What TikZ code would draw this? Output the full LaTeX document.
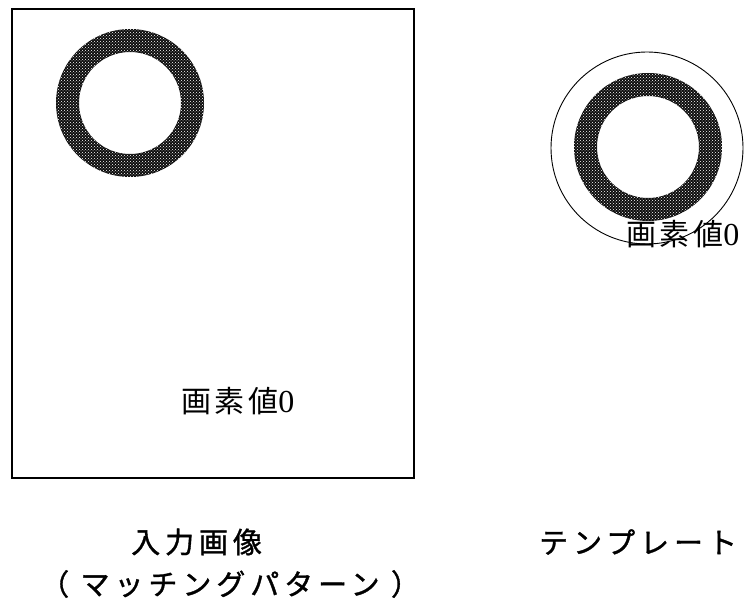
\documentclass[tikz,border=0pt]{standalone}
\usepackage{fontspec}
\usetikzlibrary{patterns}
\newfontfamily\cjk{Noto Sans CJK JP}
\newfontfamily\cjksp[LetterSpace=17,FakeBold=1.2]{Noto Sans CJK JP}
\newfontfamily\cjkval[LetterSpace=12]{Noto Sans CJK JP}
\newfontfamily\serifnum{Liberation Serif}
\begin{document}
\begin{tikzpicture}[x=1pt,y=-1pt,
  ringfill/.style={fill=black!95,even odd rule},
  ringdots/.style={pattern=crosshatch dots,pattern color=white,even odd rule},
  valtext/.style={inner sep=0pt,font=\fontsize{30}{32}\selectfont},
  captext/.style={inner sep=0pt,font=\fontsize{29}{31}\selectfont\cjksp}]
\useasboundingbox (0,0) rectangle (749,604);
% input image frame
\draw[line width=1.4pt] (12,9) rectangle (414,478);
% left ring
\fill[ringfill] (130,103) circle (74) (130,103) circle (51);
\fill[ringdots] (130,103) circle (74) (130,103) circle (51);
% right template
\draw[line width=0.9pt] (647,148) circle (96);
\fill[ringfill] (648,147) circle (74) (648,147) circle (51);
\fill[ringdots] (648,147) circle (74) (648,147) circle (51);
% pixel value labels
\node[valtext,anchor=west] (v1) at (181,401) {\cjkval 画素値\serifnum\fontsize{32}{34}\selectfont 0};
\node[valtext,anchor=west] (v2) at (626,234) {\cjkval 画素値\serifnum\fontsize{32}{34}\selectfont 0};
% captions
\node[captext,anchor=west] (c1) at (131,542) {入力画像};
\node[captext,anchor=west] (c2) at (40,584) {（ マッチングパターン ）};
\node[captext,anchor=west] (c3) at (539,542) {テンプレート};
\end{tikzpicture}
\end{document}
